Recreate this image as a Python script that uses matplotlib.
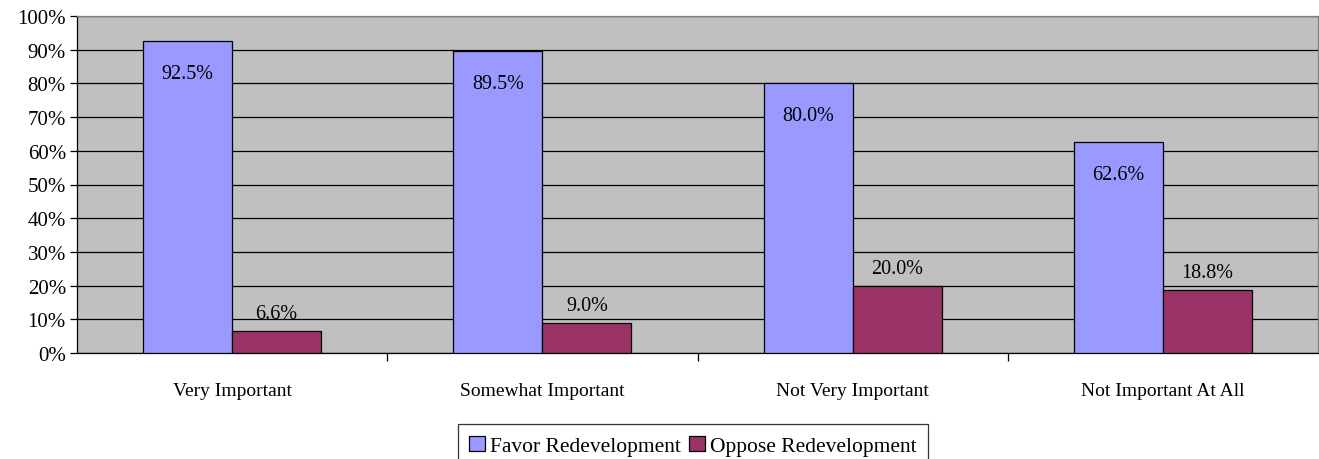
import matplotlib
matplotlib.use('Agg')
import matplotlib.pyplot as plt
import numpy as np

categories = ['Very Important', 'Somewhat Important', 'Not Very Important', 'Not Important At All']
favor = [92.5, 89.5, 80.0, 62.6]
oppose = [6.6, 9.0, 20.0, 18.8]

plt.rcParams['font.family'] = ['Liberation Serif', 'DejaVu Serif']

fig = plt.figure(figsize=(13.19, 4.6), dpi=100)
ax = fig.add_axes([77 / 1319, 1 - 354 / 460, 1241 / 1319, 337 / 460])
ax.set_facecolor('#C0C0C0')

x = np.arange(len(categories))
w = 0.287
ax.bar(x - w / 2, favor, w, color='#9999FF', edgecolor='black', linewidth=0.9,
       label='Favor Redevelopment', zorder=3)
ax.bar(x + w / 2, oppose, w, color='#993366', edgecolor='black', linewidth=0.9,
       label='Oppose Redevelopment', zorder=3)

for xi, v in zip(x, favor):
    ax.annotate('%.1f%%' % v, (xi - w / 2, v), xytext=(0, -32), textcoords='offset pixels',
                ha='center', va='center', fontsize=14.5, zorder=4)
for xi, v in zip(x, oppose):
    ax.annotate('%.1f%%' % v, (xi + w / 2, v), xytext=(0, 17), textcoords='offset pixels',
                ha='center', va='center', fontsize=14.5, zorder=4)

ax.set_xlim(-0.5, 3.5)
ax.set_ylim(0, 100)
ax.set_yticks(np.arange(0, 101, 10))
ax.set_yticklabels(['%d%%' % t for t in range(0, 101, 10)], fontsize=15)
ax.yaxis.grid(True, color='black', linewidth=0.9, zorder=1)
ax.tick_params(axis='y', direction='out', length=5, width=0.9, pad=3)

ax.set_xticks(x)
ax.set_xticklabels(categories, fontsize=14)
ax.tick_params(axis='x', length=0, pad=21)
ax.set_xticks(np.arange(0.5, 3.5, 1), minor=True)
ax.tick_params(axis='x', which='minor', direction='out', length=6, width=0.9)

for s in ['top', 'right']:
    ax.spines[s].set_color('#808080')
    ax.spines[s].set_linewidth(0.9)
for s in ['left', 'bottom']:
    ax.spines[s].set_color('black')
    ax.spines[s].set_linewidth(0.9)

leg = fig.legend(loc='upper center', bbox_to_anchor=(693 / 1319, 1 - 425 / 460), ncol=2,
                 fontsize=15.5, frameon=True, fancybox=False, edgecolor='black',
                 handlelength=0.7, handleheight=0.7, handletextpad=0.25, columnspacing=0.4,
                 borderpad=0.55, borderaxespad=0)
leg.get_frame().set_linewidth(0.9)

fig.savefig('out.png', dpi=100)
